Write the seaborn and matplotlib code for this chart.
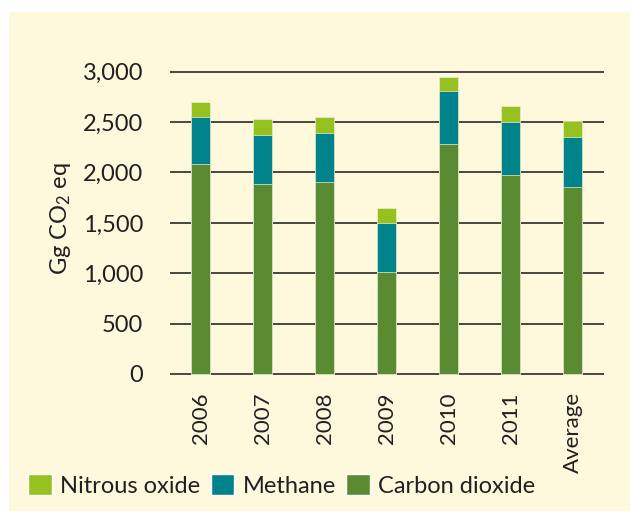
import matplotlib
matplotlib.use("Agg")
import matplotlib.pyplot as plt
from matplotlib.patches import Patch, Rectangle
from matplotlib.ticker import FuncFormatter
import seaborn as sns
import pandas as pd

# Data (Gg CO2 eq)
years = ["2006", "2007", "2008", "2009", "2010", "2011", "Average"]
carbon_dioxide = [2080, 1885, 1905, 1010, 2285, 1975, 1855]
methane = [475, 490, 490, 490, 520, 525, 500]
nitrous_oxide = [145, 155, 160, 150, 145, 155, 155]

green = "#5a8a32"
teal = "#00838a"
lime = "#97c11f"
cream = "#fef9dc"
ink = "#231f20"

df = pd.DataFrame({"year": years, "co2": carbon_dioxide,
                   "ch4": methane, "n2o": nitrous_oxide})
df["co2_ch4"] = df["co2"] + df["ch4"]
df["total"] = df["co2_ch4"] + df["n2o"]

sns.set_style("white")
plt.rcParams["font.family"] = ["Lato", "DejaVu Sans"]
plt.rcParams["mathtext.default"] = "regular"

fig = plt.figure(figsize=(6.3, 5.12), dpi=100)
fig.patch.set_facecolor("white")
fig.patches.append(Rectangle((9 / 630, 1 - 510.7 / 512), 1, (510.7 - 11.7) / 512,
                             transform=fig.transFigure, facecolor=cream,
                             edgecolor="none", zorder=-10))

ax = fig.add_axes([169.5 / 630, 1 - 375.5 / 512, 434 / 630, 305.3 / 512])
ax.set_facecolor("none")

# stacked bars: draw cumulative totals from the top down
bar_kw = dict(order=years, width=0.32, saturation=1, ax=ax,
              edgecolor="#e9efcf", linewidth=0.5)
sns.barplot(data=df, x="year", y="total", color=lime, **bar_kw)
sns.barplot(data=df, x="year", y="co2_ch4", color=teal, **bar_kw)
sns.barplot(data=df, x="year", y="co2", color=green, **bar_kw)

ax.set_xlim(-0.5, 6.5)
ax.set_ylim(-15, 3015)
ax.set_yticks(range(0, 3001, 500))
ax.yaxis.set_major_formatter(FuncFormatter(lambda v, p: f"{v:,.0f}"))
ax.yaxis.grid(True, color="#3a3a34", linewidth=1.3)
ax.set_axisbelow(True)
sns.despine(ax=ax, left=True, bottom=True)

ax.tick_params(axis="y", length=0, pad=19, labelsize=17, labelcolor=ink)
ax.tick_params(axis="x", length=0, pad=12, labelsize=16, labelcolor=ink,
               labelrotation=90)
for lab in ax.get_xticklabels():
    lab.set_va("top")

ax.set_xlabel("")
ax.set_ylabel("Gg CO$_2$ eq", fontsize=17, color=ink)
ax.yaxis.set_label_coords(-0.222, 0.515)

handles = [Patch(facecolor=lime, label="Nitrous oxide"),
           Patch(facecolor=teal, label="Methane"),
           Patch(facecolor=green, label="Carbon dioxide")]
leg = fig.legend(handles=handles, loc="center left",
                 bbox_to_anchor=(28 / 630, 1 - 485.3 / 512), ncol=3,
                 frameon=False, fontsize=17, handlelength=1.0,
                 handleheight=1.0, handletextpad=0.35, columnspacing=0.45,
                 borderpad=0, borderaxespad=0)
for t in leg.get_texts():
    t.set_color(ink)

fig.savefig("out.png", dpi=100, facecolor=fig.get_facecolor())
